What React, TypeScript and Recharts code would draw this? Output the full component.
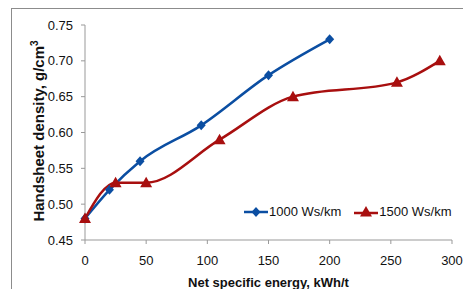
import { LineChart, Line, XAxis, YAxis } from "recharts";

const energy1000 = [0, 20, 45, 95, 150, 200];
const density1000 = [0.48, 0.52, 0.56, 0.61, 0.68, 0.73];
const energy1500 = [0, 25, 50, 110, 170, 255, 290];
const density1500 = [0.48, 0.53, 0.53, 0.59, 0.65, 0.67, 0.7];
const xTicks = [0, 50, 100, 150, 200, 250, 300];
const yTicks = [0.45, 0.5, 0.55, 0.6, 0.65, 0.7, 0.75];

const BLUE = "#0b4ea2";
const RED = "#a80f0f";
const FONT = "'Liberation Sans', Arial, sans-serif";

const series1000 = energy1000.map((x, i) => ({ x, y: density1000[i] }));
const series1500 = energy1500.map((x, i) => ({ x, y: density1500[i] }));

function Diamond(props: any) {
    const { cx, cy } = props;
    if (cx == null || cy == null) return null;
    return <path d={`M${cx},${cy - 5}L${cx + 4.5},${cy}L${cx},${cy + 5}L${cx - 4.5},${cy}Z`} fill={BLUE} />;
}

function Triangle(props: any) {
    const { cx, cy } = props;
    if (cx == null || cy == null) return null;
    return <path d={`M${cx},${cy - 6}L${cx + 6},${cy + 4.5}L${cx - 6},${cy + 4.5}Z`} fill={RED} />;
}

// rotated y title with a real superscript
function YTitle() {
    return (
        <text
            transform="translate(44,131) rotate(-90)"
            textAnchor="middle"
            fontFamily={FONT}
            fontSize={15}
            fontWeight="bold"
            fill="#111"
        >
            Handsheet density, g/cm
            <tspan fontSize={10} dy={-6}>3</tspan>
        </text>
    );
}

function LegendBox() {
    return (
        <div
            style={{
                position: "absolute",
                left: 243,
                top: 204,
                display: "flex",
                gap: 12,
                fontFamily: FONT,
                fontSize: 13,
                color: "#111",
                alignItems: "center",
            }}
        >
            <span style={{ display: "flex", alignItems: "center" }}>
                <svg width={26} height={14}>
                    <line x1={1} y1={7} x2={25} y2={7} stroke={BLUE} strokeWidth={2.5} />
                    <Diamond cx={13} cy={7} />
                </svg>
                1000 Ws/km
            </span>
            <span style={{ display: "flex", alignItems: "center" }}>
                <svg width={26} height={14}>
                    <line x1={1} y1={8} x2={25} y2={8} stroke={RED} strokeWidth={2.5} />
                    <Triangle cx={13} cy={7} />
                </svg>
                1500 Ws/km
            </span>
        </div>
    );
}

export default function App() {
    return (
        <div style={{ position: "absolute", left: 0, top: 0, width: 463, height: 289, background: "#fff" }}>
            <div
                style={{
                    position: "absolute",
                    left: 11,
                    top: 8,
                    width: 470,
                    height: 300,
                    border: "1px solid #8c8c8c",
                    boxSizing: "border-box",
                }}
            />
            <LineChart
                width={463}
                height={289}
                margin={{ top: 25, right: 11, bottom: 0, left: 0 }}
                style={{ position: "absolute", left: 0, top: 0 }}
            >
                <XAxis
                    type="number"
                    dataKey="x"
                    domain={[0, 300]}
                    ticks={xTicks}
                    height={49}
                    stroke="#999"
                    tickSize={4}
                    tickMargin={12}
                    tick={{ fontSize: 13, fill: "#111", fontFamily: FONT }}
                    label={{
                        value: "Net specific energy, kWh/t",
                        position: "insideBottom",
                        offset: 2,
                        style: { fontSize: 13, fontWeight: "bold", fill: "#111", fontFamily: FONT },
                    }}
                />
                <YAxis
                    type="number"
                    dataKey="y"
                    domain={[0.45, 0.75]}
                    ticks={yTicks}
                    width={85}
                    stroke="#999"
                    tickSize={4}
                    tickMargin={8}
                    tickFormatter={(v: number) => v.toFixed(2)}
                    tick={{ fontSize: 13, fill: "#111", fontFamily: FONT }}
                    label={{ content: () => <YTitle /> }}
                />
                <Line
                    data={series1000}
                    dataKey="y"
                    type="monotone"
                    stroke={BLUE}
                    strokeWidth={2.5}
                    dot={<Diamond />}
                    isAnimationActive={false}
                />
                <Line
                    data={series1500}
                    dataKey="y"
                    type="monotone"
                    stroke={RED}
                    strokeWidth={2.5}
                    dot={<Triangle />}
                    isAnimationActive={false}
                />
            </LineChart>
            <LegendBox />
        </div>
    );
}
